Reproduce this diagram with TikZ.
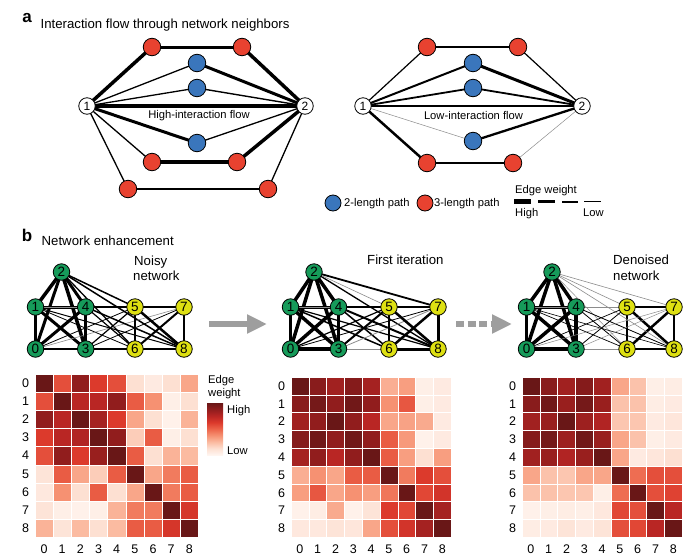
\documentclass[tikz,border=0pt]{standalone}
\usepackage{fontspec}
\setmainfont{Liberation Sans}
\usetikzlibrary{arrows.meta}
\pgfdeclarelayer{back}
\pgfdeclarelayer{bg}
\pgfsetlayers{back,bg,main}

\definecolor{nred}{RGB}{232,66,48}
\definecolor{nblue}{RGB}{58,118,188}
\definecolor{ngreen}{RGB}{22,155,90}
\definecolor{nyellow}{RGB}{222,224,18}
\definecolor{agray}{RGB}{158,158,158}
\definecolor{egray}{RGB}{140,140,140}
\definecolor{R0}{RGB}{255,245,240}
\definecolor{R1}{RGB}{253,224,210}
\definecolor{R2}{RGB}{251,187,161}
\definecolor{R3}{RGB}{246,145,114}
\definecolor{R4}{RGB}{236,100,74}
\definecolor{R5}{RGB}{220,58,44}
\definecolor{R6}{RGB}{185,38,36}
\definecolor{R7}{RGB}{145,29,29}
\definecolor{R8}{RGB}{105,23,23}

\pgfdeclareverticalshading{redsbar}{100bp}{color(0bp)=(R0); color(25bp)=(R0); color(31.25bp)=(R1); color(37.5bp)=(R2); color(43.75bp)=(R3); color(50bp)=(R4); color(56.25bp)=(R5); color(62.5bp)=(R6); color(68.75bp)=(R7); color(75bp)=(R8); color(100bp)=(R8)}

\tikzset{
  nd/.style={circle, draw=black, line width=0.8pt, inner sep=0pt, minimum size=17.5pt, font=\fontsize{12}{12}\selectfont},
  rnode/.style={nd, fill=nred},
  bnode/.style={nd, fill=nblue},
  wnode/.style={nd, fill=white, minimum size=16.5pt},
  gnode/.style={nd, fill=ngreen, minimum size=16.5pt, font=\fontsize{13.5}{13.5}\selectfont},
  ynode/.style={nd, fill=nyellow, minimum size=16.5pt, font=\fontsize{13.5}{13.5}\selectfont},
  title/.style={inner sep=0pt, anchor=base west, font=\fontsize{13.2}{15}\selectfont},
  small/.style={inner sep=0pt, font=\fontsize{11.2}{13}\selectfont},
  panel/.style={inner sep=0pt, anchor=base, font=\fontsize{17}{17}\selectfont\bfseries},
  digit/.style={inner sep=0pt, font=\fontsize{12.5}{13}\selectfont},
  bigarrow/.style={agray, line width=6pt, -{Triangle[length=20pt,width=18pt]}},
}

\newcommand\hmap[5]{%
  \foreach \hmrowdata [count=\hmr from 0] in {#5} {
    \foreach \hmv [count=\hmcol from 0] in \hmrowdata {
      \pgfmathtruncatemacro\hmlo{int(\hmv/10)}
      \pgfmathtruncatemacro\hmhi{min(\hmlo+1,8)}
      \pgfmathtruncatemacro\hmpct{10*(\hmv-10*\hmlo)}
      \colorlet{hmcell}{R\hmhi!\hmpct!R\hmlo}
      \filldraw[fill=hmcell, draw=white, line width=0.5pt] ({#2+\hmcol*#4},{#3+\hmr*#4}) rectangle ++(#4,#4);
    }
  }
  \foreach \i in {0,...,8} {
    \node[digit] (#1r\i) at ({#2-9.5},{#3+(\i+0.5)*#4}) {\i};
    \node[digit] (#1c\i) at ({#2+(\i+0.5)*#4},{#3+9*#4+12}) {\i};
  }
}

\newcommand\netnodes[6]{%
  \node[gnode] (#10) at (#2,349) {0};
  \node[gnode] (#11) at (#2,307) {1};
  \node[gnode] (#12) at (#3,272) {2};
  \node[gnode] (#13) at (#4,349) {3};
  \node[gnode] (#14) at (#4,307) {4};
  \node[ynode] (#15) at (#5,307) {5};
  \node[ynode] (#16) at (#5,349) {6};
  \node[ynode] (#17) at (#6,307) {7};
  \node[ynode] (#18) at (#6,349) {8};
}

\newcommand\netedges[2]{%
  \begin{pgfonlayer}{bg}
  \foreach \ea/\eb/\ew/\ecl in {#2}
    \draw[line width=\ew pt, \ecl] (#1\ea.center) -- (#1\eb.center);
  \end{pgfonlayer}
}

\begin{document}
\begin{tikzpicture}[x=1pt,y=-1pt]
\useasboundingbox (0,0) rectangle (700,557);
\begin{pgfonlayer}{back}
\fill[white] (0,0) rectangle (700,557);
\end{pgfonlayer}

% ---------------- panel a ----------------
\node[panel] (pa) at (27,22) {a};
\node[title] (ta) at (40.5,28) {Interaction flow through network neighbors};

% left graph
\node[wnode] (L1) at (87,106) {1};
\node[wnode] (L2) at (305,106) {2};
\node[rnode] (LRt1) at (152,47) {};
\node[rnode] (LRt2) at (242,47) {};
\node[bnode] (LB1) at (197,63) {};
\node[bnode] (LB2) at (197,88) {};
\node[bnode] (LB3) at (197,143) {};
\node[rnode] (LRm1) at (152,162) {};
\node[rnode] (LRm2) at (237,162) {};
\node[rnode] (LRb1) at (128,189) {};
\node[rnode] (LRb2) at (268,189) {};
\node[small, anchor=base] (hif) at (199,118.5) {High-interaction flow};

% right graph
\node[wnode] (R1) at (363,106) {1};
\node[wnode] (R2) at (582,106) {2};
\node[rnode] (RRt1) at (427,47) {};
\node[rnode] (RRt2) at (518,47) {};
\node[bnode] (RB1) at (473,63) {};
\node[bnode] (RB2) at (473,88) {};
\node[bnode] (RB3) at (473,141) {};
\node[rnode] (RRb1) at (427,163) {};
\node[rnode] (RRb2) at (513,163) {};
\node[small, anchor=base] (lif) at (473.5,119) {Low-interaction flow};

\begin{pgfonlayer}{bg}
\foreach \ea/\eb/\ew/\ecl in {
  L1/LRt1/3.5/black, LRt1/LRt2/3/black, LRt2/L2/3.5/black,
  L1/LB1/1.3/black, LB1/L2/3/black,
  L1/LB2/1.3/black, LB2/L2/1.4/black,
  L1/L2/4/black,
  L1/LB3/3/black, LB3/L2/1.3/black,
  L1/LRm1/1.3/black, LRm1/LRm2/3.5/black, LRm2/L2/3.5/black,
  L1/LRb1/1.3/black, LRb1/LRb2/1.8/black, LRb2/L2/1.3/black,
  R1/RRt1/1.2/black, RRt1/RRt2/1.2/black, RRt2/R2/1.2/black,
  R1/RB1/2/black, RB1/R2/3/black,
  R1/RB2/1.8/black, RB2/R2/1.8/black,
  R1/R2/2/black,
  R1/RB3/0.5/egray, RB3/R2/2.3/black,
  R1/RRb1/2.5/black, RRb1/RRb2/2/black, RRb2/R2/0.5/egray}
  \draw[line width=\ew pt, \ecl] (\ea.center) -- (\eb.center);
\end{pgfonlayer}

% legend
\node[bnode, minimum size=16pt] (legB) at (333,203) {};
\node[small, anchor=base west] (legBt) at (344,206.5) {2-length path};
\node[rnode, minimum size=16pt] (legR) at (425,203) {};
\node[small, anchor=base west] (legRt) at (434,206.5) {3-length path};
\node[small, anchor=base west] (ewt) at (515,193) {Edge weight};
\draw[line width=5pt] (514,201.5) -- (531,201.5);
\draw[line width=3.5pt] (538,201.5) -- (555,201.5);
\draw[line width=2pt] (562,201.5) -- (578,201.5);
\draw[line width=1pt] (584,201.5) -- (601,201.5);
\node[small, anchor=base west] (ewh) at (515,216.5) {High};
\node[small, anchor=base west] (ewl) at (583,216.5) {Low};

% ---------------- panel b ----------------
\node[panel] (pb) at (27,241) {b};
\node[title] (tb) at (41.5,245.7) {Network enhancement};
\node[title] (noisyA) at (134,265) {Noisy};
\node[title] (noisyB) at (133,280.7) {network};
\node[title] (firstit) at (367,264.3) {First iteration};
\node[title] (denA) at (613,264.3) {Denoised};
\node[title] (denB) at (613,280.3) {network};

\netnodes{n}{35.5}{61.5}{85.7}{135}{184}
\netnodes{f}{290.5}{314}{338.5}{389}{438}
\netnodes{d}{526.5}{552}{576}{627}{674}

\netedges{n}{2/1/3.5/black, 2/0/3/black, 2/4/3/black, 2/3/3.5/black, 2/5/1.5/black, 2/6/1.3/black, 2/8/1.5/black,
  1/0/2.5/black, 1/4/3/black, 1/3/3/black, 1/6/0.8/black, 1/8/1/black, 1/5/0.6/egray,
  0/3/2.5/black, 0/4/3/black, 0/5/0.8/black, 0/7/0.6/egray,
  4/3/2.5/black, 4/5/2.5/black, 4/6/1.2/black, 4/8/1.5/black,
  3/6/2/black, 3/5/1.2/black, 3/7/0.8/black,
  5/7/2/black, 5/6/1.5/black, 5/8/2.5/black,
  7/8/2.5/black, 7/6/2/black, 6/8/2.5/black}

\netedges{f}{2/1/3.5/black, 2/0/3.5/black, 2/4/3.5/black, 2/3/3.5/black, 2/7/1.8/black, 2/8/1.3/black, 2/5/0.6/egray,
  1/4/3/black, 1/0/3.5/black, 1/3/3.5/black, 1/6/1.5/black, 1/8/1.2/black, 1/5/0.6/egray,
  0/4/3.5/black, 0/3/3.5/black, 0/5/1.2/black, 0/7/0.8/black,
  4/3/3.5/black, 4/5/2/black, 4/6/1.5/black, 4/8/2/black,
  3/5/2/black, 3/6/1/egray, 3/7/0.8/egray,
  5/7/2.5/black, 5/6/1.5/black, 5/8/2.5/black,
  7/6/2.5/black, 7/8/3/black, 6/8/3/black}

\netedges{d}{2/1/3.5/black, 2/0/3.5/black, 2/4/3.5/black, 2/3/3.5/black,
  1/4/3/black, 1/0/3.5/black, 1/3/3.5/black, 0/4/3.5/black, 0/3/3.5/black, 4/3/3.5/black,
  5/7/2.5/black, 5/6/2.5/black, 5/8/2.5/black, 7/6/2.5/black, 7/8/2.5/black, 6/8/2.5/black,
  2/5/0.6/egray, 2/7/0.6/egray, 2/8/0.6/egray, 2/6/0.5/egray,
  4/5/0.8/egray, 4/6/0.8/black, 4/8/0.8/black,
  1/6/0.7/black, 1/8/0.6/black, 1/5/0.5/egray,
  0/5/0.7/black, 0/7/0.5/egray, 3/5/0.8/black, 3/7/0.5/egray, 3/6/0.6/egray}

% arrows
\coordinate (ar1s) at (209,324);
\coordinate (ar1e) at (267,324);
\draw[bigarrow] (ar1s) -- (ar1e);
\coordinate (ar2s) at (456,324);
\coordinate (ar2e) at (512,324);
\draw[bigarrow, dash pattern=on 8pt off 3.5pt] (ar2s) -- (ar2e);

% heatmaps
\hmap{hl}{35}{374}{18.15}{
 {80,45,70,50,45,10,5,10,25},
 {45,80,60,60,70,42,30,3,10},
 {70,60,80,65,50,25,10,2,22},
 {50,60,62,80,70,15,42,3,10},
 {45,70,50,68,80,42,10,22,20},
 {8,42,25,15,42,80,25,35,42},
 {6,30,10,42,10,25,80,35,42},
 {8,3,2,3,22,35,35,80,52},
 {22,8,20,10,20,42,42,52,80}}

\hmap{hm}{291}{377}{17.8}{
 {80,72,66,73,65,23,27,3,5},
 {72,77,70,78,70,30,43,3,5},
 {66,70,80,70,60,25,26,24,5},
 {73,78,70,78,70,42,28,2,5},
 {65,70,60,70,80,42,27,10,27},
 {23,30,25,42,42,80,35,50,45},
 {27,43,25,30,27,36,80,47,53},
 {2,4,24,2,8,50,47,80,65},
 {6,6,8,7,25,45,53,65,80}}

\hmap{hr}{522}{377}{17.8}{
 {80,72,66,73,66,25,18,3,4},
 {72,78,68,77,68,18,18,4,5},
 {66,68,80,67,62,17,17,5,7},
 {73,77,67,78,68,25,18,3,5},
 {66,68,62,68,80,25,5,7,10},
 {25,18,17,25,25,80,38,45,45},
 {18,18,17,17,3,38,80,45,48},
 {2,3,4,3,6,47,45,80,60},
 {4,5,8,5,8,45,47,60,80}}

% colour bar legend
\node[small, anchor=base west] (cbA) at (208,383.5) {Edge};
\node[small, anchor=base west] (cbB) at (208,396) {weight};
\shade[shading=redsbar] (207,403) rectangle (223,455);
\node[small, anchor=base west] (cbH) at (227,413.3) {High};
\node[small, anchor=base west] (cbL) at (227,454.3) {Low};
\end{tikzpicture}
\end{document}
